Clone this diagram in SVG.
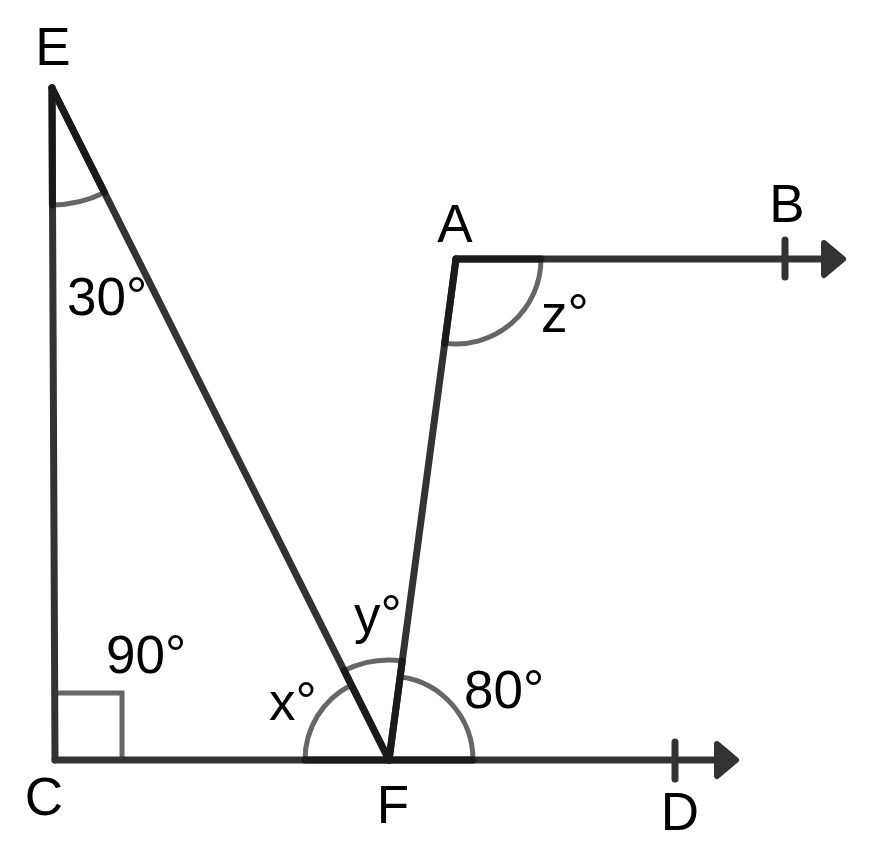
<svg xmlns="http://www.w3.org/2000/svg" width="871" height="862" viewBox="0 0 871 862">
<style>
.ln{stroke:#333;stroke-width:7;stroke-linecap:round;fill:none}
.dk{stroke:#1a1a1a;stroke-width:7;stroke-linecap:round;fill:none}
.arc{stroke:#666;stroke-width:5;fill:none;stroke-linecap:round}
.tick{stroke:#333;stroke-width:7;stroke-linecap:round}
.head{fill:#333;stroke:#333;stroke-width:6;stroke-linejoin:round}
text{font-family:"Liberation Sans",Arial,sans-serif;font-size:53px;fill:#000}
</style>
<rect width="871" height="862" fill="#fff"/>
<g id="angles">
<path class="arc" d="M52,205 A117,117 0 0 0 104.5,192.6"/>
<path class="arc" d="M541,259 A85,85 0 0 1 444.7,343.2"/>
<path class="arc" d="M305,760 A84,84 0 0 1 351.3,684.9"/>
<path class="arc" d="M344.2,670.6 A100,100 0 0 1 402.3,660.9"/>
<path class="arc" d="M400.1,676.7 A84,84 0 0 1 473,760"/>
<polyline class="arc" points="55,693 122,693 122,760" stroke="#777" stroke-width="6"/>
</g>
<g id="connectors">
<line class="ln" x1="52" y1="88" x2="55" y2="760"/>
<line class="ln" x1="52" y1="88" x2="389" y2="760"/>
<line class="ln" x1="456" y1="259" x2="389" y2="760"/>
<line class="ln" x1="456" y1="259" x2="840" y2="259"/>
<line class="ln" x1="55" y1="760" x2="733" y2="760"/>
<line class="dk" x1="52" y1="88" x2="52.4" y2="205"/>
<line class="dk" x1="52" y1="88" x2="104.5" y2="192.6"/>
<line class="dk" x1="456" y1="259" x2="541" y2="259"/>
<line class="dk" x1="456" y1="259" x2="444.7" y2="343.2"/>
<line class="dk" x1="305" y1="760" x2="473" y2="760"/>
<line class="dk" x1="389" y1="760" x2="344.2" y2="670.6"/>
<line class="dk" x1="389" y1="760" x2="402.3" y2="660.9"/>
<line class="tick" x1="785" y1="240" x2="785" y2="277"/>
<line class="tick" x1="675" y1="742" x2="675" y2="779"/>
<polygon class="head" points="824,243 843,259 824,275"/>
<polygon class="head" points="717,744 736,760 717,776"/>
</g>
<g id="labels">
<text x="53" y="65" text-anchor="middle">E</text>
<text x="455" y="242" text-anchor="middle">A</text>
<text x="787" y="222" text-anchor="middle">B</text>
<text x="44" y="815" text-anchor="middle">C</text>
<text x="680" y="830" text-anchor="middle">D</text>
<text x="393" y="823" text-anchor="middle">F</text>
<text x="67" y="315">30°</text>
<text x="541" y="332">z°</text>
<text x="354" y="633">y°</text>
<text x="269" y="720">x°</text>
<text x="464" y="708">80°</text>
<text x="106" y="673">90°</text>
</g>
</svg>
